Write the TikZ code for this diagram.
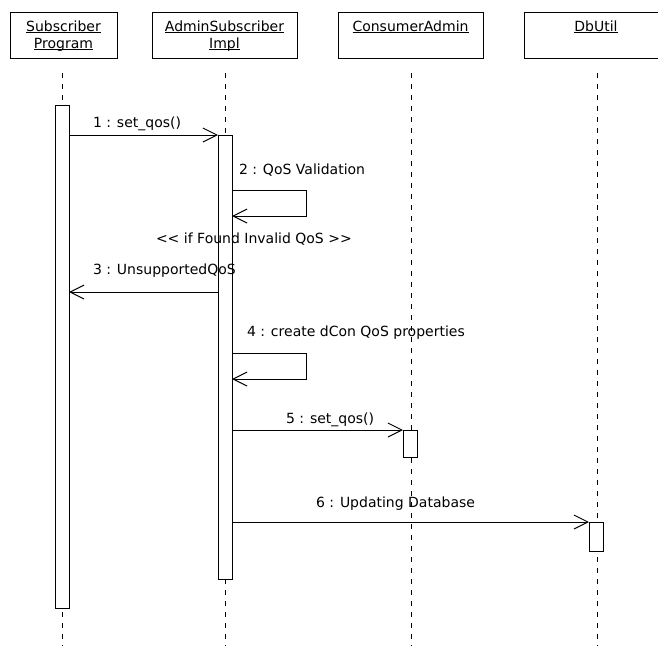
\documentclass[tikz,border=0pt]{standalone}
\usepackage{fontspec}
\setmainfont{DejaVu Sans}
\usetikzlibrary{arrows.meta}

% underlined object name, rule sitting just below the baseline
\newcommand\objname[1]{\setbox0\hbox{#1}\rlap{\rule[-2pt]{\wd0}{0.9pt}}\box0}

\begin{document}
\begin{tikzpicture}[x=1pt,y=-1pt,
  txt/.style={inner sep=0pt, outer sep=0pt, font=\fontsize{14}{16}\selectfont},
  lbl/.style={txt, anchor=base west},
  objlbl/.style={txt, anchor=base},
  objbox/.style={draw, line width=1pt, outer sep=0pt, inner sep=0pt,
                 minimum width=145, minimum height=46, anchor=north},
  lifeline/.style={line width=1pt, dash pattern=on 5pt off 6pt},
  actbar/.style={draw, fill=white, line width=1pt, outer sep=0pt, inner sep=0pt,
                 minimum width=14, anchor=north},
  msg/.style={line width=1pt, -{Straight Barb[length=14pt,width=14pt,line width=1pt]}},
]
\clip (0,0) rectangle (658,646);

% object boxes
\node[objbox, minimum width=107] (subBox) at (63.5,12) {};
\node[objbox] (admBox) at (224.5,12) {};
\node[objbox] (caBox)  at (410.5,12) {};
\node[objbox] (dbBox)  at (597,12) {};

\node[objlbl] (subName1) at (63.5,31) {\objname{Subscriber}};
\node[objlbl] (subName2) at (63.5,48) {\objname{Program}};
\node[objlbl] (admName1) at (224.5,31) {\objname{AdminSubscriber}};
\node[objlbl] (admName2) at (224.5,48) {\objname{Impl}};
\node[objlbl] (caName)   at (410.5,31) {\objname{ConsumerAdmin}};
\node[objlbl] (dbName)   at (596,31) {\objname{DbUtil}};

% lifelines
\coordinate (subTop) at (62,73);  \coordinate (subEnd) at (62,646);
\coordinate (admTop) at (225,73); \coordinate (admEnd) at (225,646);
\coordinate (caTop)  at (411,73); \coordinate (caEnd)  at (411,646);
\coordinate (dbTop)  at (597,73); \coordinate (dbEnd)  at (597,646);
\draw[lifeline] (subTop) -- (subEnd);
\draw[lifeline] (admTop) -- (admEnd);
\draw[lifeline] (caTop) -- (caEnd);
\draw[lifeline] (dbTop) -- (dbEnd);

% activation bars
\node[actbar, minimum height=503] (subAct) at (62,105) {};
\node[actbar, minimum height=444] (admAct) at (225,135) {};
\node[actbar, minimum height=27]  (caAct)  at (410,430) {};
\node[actbar, minimum height=29]  (dbAct)  at (596,522) {};

% message levels
\coordinate (m1) at (0,135);
\coordinate (s2a) at (0,190); \coordinate (s2b) at (0,216);
\coordinate (m3) at (0,292);
\coordinate (s4a) at (0,353); \coordinate (s4b) at (0,379);
\coordinate (m6) at (0,522);

% messages
\draw[msg] (subAct.east |- m1) -- (admAct.north west);
\draw[msg] (admAct.east |- s2a) -- ++(74,0) -- ++(0,26) -- (admAct.east |- s2b);
\draw[msg] (admAct.west |- m3) -- (subAct.east |- m3);
\draw[msg] (admAct.east |- s4a) -- ++(74,0) -- ++(0,26) -- (admAct.east |- s4b);
\draw[msg] (admAct.east |- caAct.north) -- (caAct.north west);
\draw[msg] (admAct.east |- m6) -- (dbAct.north west);

% message labels
\node[lbl] (l1) at (93,127)  {1 : set\_qos()};
\node[lbl] (l2) at (239,174) {2 : QoS Validation};
\node[lbl] (lc) at (156,243) {<{}< if Found Invalid QoS >{}>};
\node[lbl] (l3) at (93,274)  {3 : UnsupportedQoS};
\node[lbl] (l4) at (247,336) {4 : create dCon QoS properties};
\node[lbl] (l5) at (286,423) {5 : set\_qos()};
\node[lbl] (l6) at (316,507) {6 : Updating Database};
\end{tikzpicture}
\end{document}
